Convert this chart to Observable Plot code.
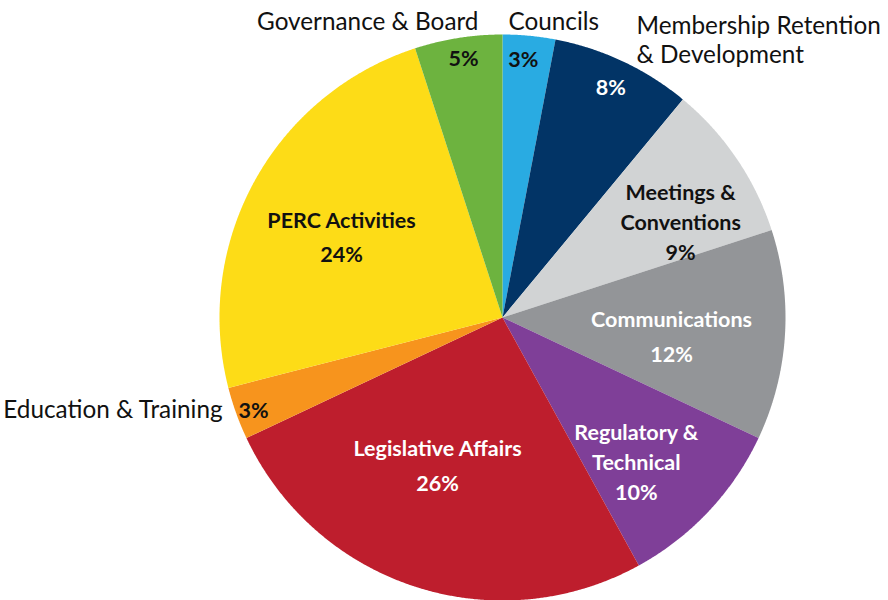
<!DOCTYPE html>
<html>
<head>
<meta charset="utf-8">
<script src="https://cdn.jsdelivr.net/npm/d3@7"></script>
<script src="https://cdn.jsdelivr.net/npm/@observablehq/plot@0.6"></script>
<style>
  html, body { margin: 0; padding: 0; background: #ffffff; }
  #chart svg { display: block; }
</style>
</head>
<body>
<div id="chart"></div>
<script>
// ---- Data ----
const categories = [
  "Councils",
  "Membership Retention & Development",
  "Meetings & Conventions",
  "Communications",
  "Regulatory & Technical",
  "Legislative Affairs",
  "Education & Training",
  "PERC Activities",
  "Governance & Board"
];
const shares = [3, 8, 9, 12, 10, 26, 3, 24, 5];
const sliceColors = ["#29abe2", "#023466", "#d1d3d4", "#939598", "#7f3f98", "#be1e2d", "#f7941d", "#fddc17", "#6db33f"];

// Label texts (inside slice) and outside names
const insideText = [
  "3%", "8%", "Meetings &\nConventions\n9%", "Communications\n12%",
  "Regulatory &\nTechnical\n10%", "Legislative Affairs\n26%", "3%",
  "PERC Activities\n24%", "5%"
];
const insideInk = ["#111", "#fff", "#111", "#fff", "#fff", "#fff", "#111", "#111", "#111"];
// label placement: polar (degrees clockwise from top, radius fraction)
const insideAngle = [4.6, 25, 61.4, 95.4, 136.9, 204.1, 249.9, 297.5, 351.5];
const insideRadius = [0.92, 0.905, 0.717, 0.60, 0.692, 0.562, 0.937, 0.641, 0.933];

const outsideText = ["Councils", "Membership Retention\n& Development", "Education & Training", "Governance & Board"];
const outsideX = [0.021, 0.4735, -0.989, -0.085];
const outsideY = [1.049, 0.982, -0.3216, 1.049];
const outsideAnchor = ["start", "start", "end", "end"];

// ---- Build slices from shares ----
const pie = d3.pie().sort(null).value(d => d)(shares);
const rad = Math.PI / 180;
const polys = [];
pie.forEach((p, i) => {
  const a0 = p.startAngle, a1 = p.endAngle;
  const n = Math.max(2, Math.ceil((a1 - a0) / (0.25 * rad)));
  polys.push({cat: categories[i], x: 0, y: 0});
  for (let k = 0; k <= n; k++) {
    const a = a0 + (a1 - a0) * k / n;
    polys.push({cat: categories[i], x: Math.sin(a), y: Math.cos(a)});
  }
  polys.push({cat: categories[i], x: 0, y: 0});
});

const inside = categories.map((c, i) => ({
  cat: c,
  text: insideText[i],
  lines: insideText[i].split("\n").length,
  ink: insideInk[i],
  x: insideRadius[i] * Math.sin(insideAngle[i] * rad),
  y: insideRadius[i] * Math.cos(insideAngle[i] * rad)
}));
const outside = outsideText.map((t, i) => ({text: t, x: outsideX[i], y: outsideY[i], anchor: outsideAnchor[i]}));

const insideStyle = {
  x: "x", y: "y", text: "text", fill: d => d.ink,
  fontSize: 21.5, fontWeight: "bold",
  textAnchor: "middle", letterSpacing: "-0.6px"
};

const chart = Plot.plot({
  width: 888,
  height: 600,
  marginLeft: 219,
  marginRight: 103,
  marginTop: 34,
  marginBottom: 0,
  x: {domain: [-1, 1], axis: null},
  y: {domain: [-1, 1], axis: null},
  color: {domain: categories, range: sliceColors},
  style: {fontFamily: "Lato, 'Open Sans', sans-serif", background: "#ffffff"},
  marks: [
    Plot.line(polys, {x: "x", y: "y", z: "cat", fill: "cat", stroke: "none", curve: "linear"}),
    Plot.text(inside.filter(d => d.lines !== 2), {...insideStyle, lineHeight: 1.38}),
    Plot.text(inside.filter(d => d.lines === 2), {...insideStyle, lineHeight: 1.6}),
    Plot.text(outside.filter(d => d.anchor === "start"), {
      x: "x", y: "y", text: "text", fill: "#111", fontSize: 24.3,
      textAnchor: "start", lineHeight: 1.17
    }),
    Plot.text(outside.filter(d => d.anchor === "end"), {
      x: "x", y: "y", text: "text", fill: "#111", fontSize: 24.3,
      textAnchor: "end", lineHeight: 1.17
    })
  ]
});
document.getElementById("chart").appendChild(chart);
</script>
</body>
</html>
